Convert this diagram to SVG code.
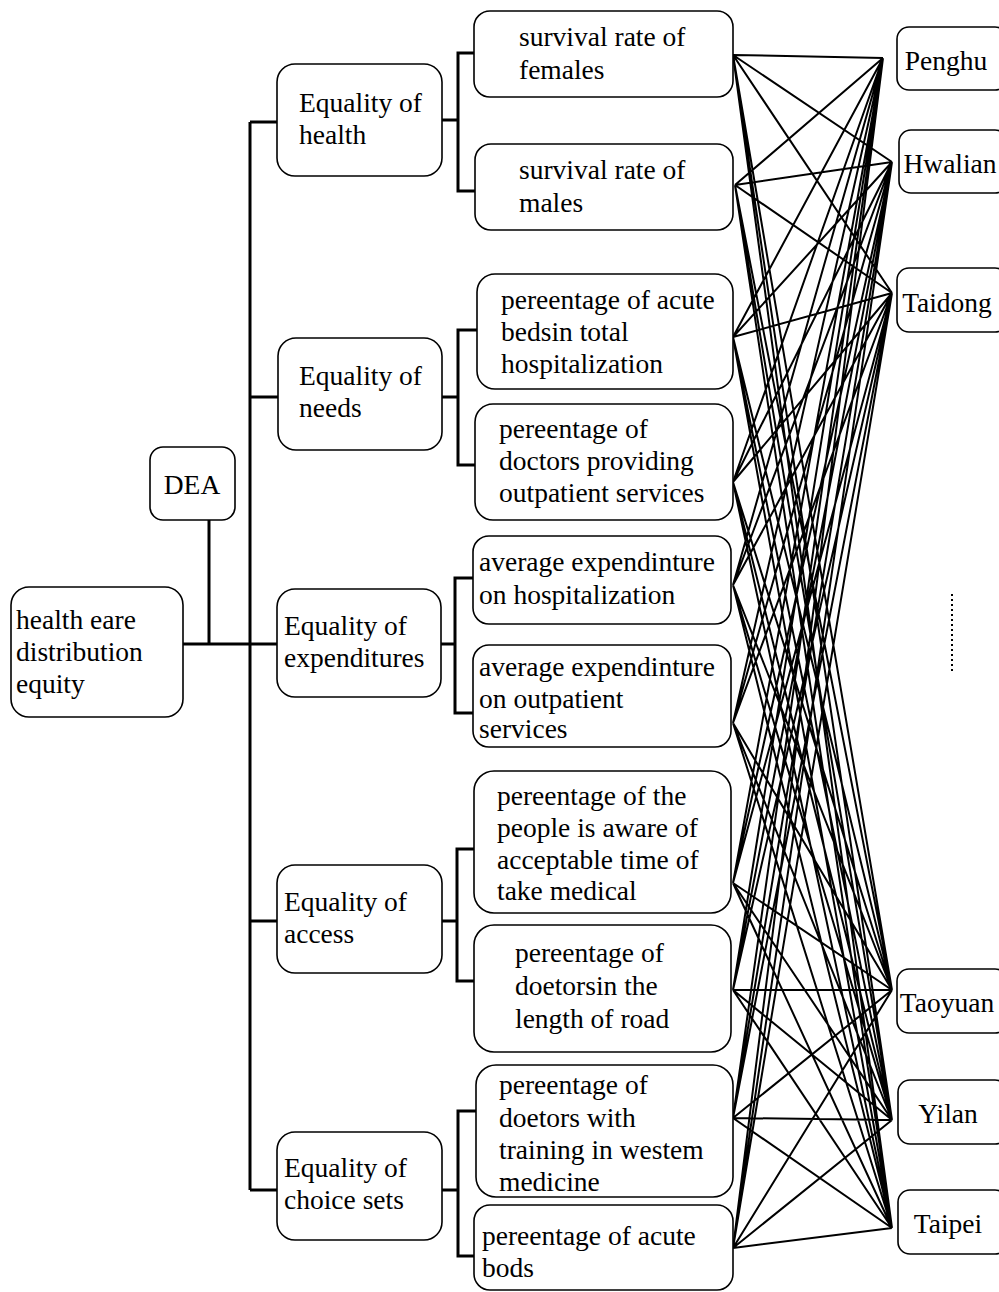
<svg xmlns="http://www.w3.org/2000/svg" width="999" height="1292" viewBox="0 0 999 1292">
<style>
.box{fill:#fff;stroke:#000;stroke-width:1.6}
.t{font-family:'Liberation Serif',serif;font-size:27.5px;fill:#000}
.tree{fill:none;stroke:#000;stroke-width:3}
.link{stroke:#000;stroke-width:2}
.c{text-anchor:middle}
</style>
<rect width="999" height="1292" fill="#fff"/>
<g id="tree-connectors" class="tree">
<path d="M183,644 H277"/>
<path d="M209,520 V644"/>
<path d="M250,122 V1190"/>
<path d="M250,122 H277 M250,397 H278 M250,921 H277 M250,1190 H277"/>
<path d="M442,120 H458 M475,53 H458 V191 H475"/>
<path d="M442,397 H458 M477,330 H458 V465 H475"/>
<path d="M441,644 H455 M473,578 H455 V713 H473"/>
<path d="M442,921 H457 M474,849 H457 V981 H474"/>
<path d="M442,1190 H458 M476,1111 H458 V1256 H474"/>
</g>
<g id="links" class="link">
<path d="M733,55 L883,58 M733,55 L892,162 M733,55 L892,293 M733,55 L892,990 M733,55 L892,1120 M733,55 L892,1228
M735,185 L883,58 M735,185 L892,162 M735,185 L892,293 M735,185 L892,990 M735,185 L892,1120 M735,185 L892,1228
M733,337 L883,58 M733,337 L892,162 M733,337 L892,293 M733,337 L892,990 M733,337 L892,1120 M733,337 L892,1228
M733,482 L883,58 M733,482 L892,162 M733,482 L892,293 M733,482 L892,990 M733,482 L892,1120 M733,482 L892,1228
M733,585 L883,58 M733,585 L892,162 M733,585 L892,293 M733,585 L892,990 M733,585 L892,1120 M733,585 L892,1228
M733,723 L883,58 M733,723 L892,162 M733,723 L892,293 M733,723 L892,990 M733,723 L892,1120 M733,723 L892,1228
M733,883 L883,58 M733,883 L892,162 M733,883 L892,293 M733,883 L892,990 M733,883 L892,1120 M733,883 L892,1228
M733,990 L883,58 M733,990 L892,162 M733,990 L892,293 M733,990 L892,990 M733,990 L892,1120 M733,990 L892,1228
M733,1118 L883,58 M733,1118 L892,162 M733,1118 L892,293 M733,1118 L892,990 M733,1118 L892,1120 M733,1118 L892,1228
M733,1248 L883,58 M733,1248 L892,162 M733,1248 L892,293 M733,1248 L892,990 M733,1248 L892,1120 M733,1248 L892,1228" fill="none"/>
</g>
<g id="root"><rect class="box" x="11" y="587" width="172" height="130" rx="18"/>
<text class="t" x="16" y="629">health eare</text><text class="t" x="16" y="661">distribution</text><text class="t" x="16" y="693">equity</text></g>
<g id="dea"><rect class="box" x="150" y="447" width="85" height="73" rx="13"/>
<text class="t c" x="192" y="494">DEA</text></g>
<g id="eq-health"><rect class="box" x="277" y="64" width="165" height="112" rx="18"/>
<text class="t" x="299" y="112">Equality of</text><text class="t" x="299" y="144">health</text></g>
<g id="eq-needs"><rect class="box" x="278" y="338" width="164" height="112" rx="18"/>
<text class="t" x="299" y="385">Equality of</text><text class="t" x="299" y="417">needs</text></g>
<g id="eq-exp"><rect class="box" x="277" y="589" width="164" height="108" rx="18"/>
<text class="t" x="284" y="635">Equality of</text><text class="t" x="284" y="667">expenditures</text></g>
<g id="eq-access"><rect class="box" x="277" y="865" width="165" height="108" rx="18"/>
<text class="t" x="284" y="911">Equality of</text><text class="t" x="284" y="943">access</text></g>
<g id="eq-choice"><rect class="box" x="277" y="1132" width="165" height="108" rx="18"/>
<text class="t" x="284" y="1177">Equality of</text><text class="t" x="284" y="1209">choice sets</text></g>
<g id="n-females"><rect class="box" x="474" y="11" width="259" height="86" rx="16"/>
<text class="t" x="519" y="46">survival rate of</text><text class="t" x="519" y="79">females</text></g>
<g id="n-males"><rect class="box" x="475" y="144" width="258" height="86" rx="16"/>
<text class="t" x="519" y="179">survival rate of</text><text class="t" x="519" y="212">males</text></g>
<g id="n-beds"><rect class="box" x="477" y="274" width="256" height="115" rx="18"/>
<text class="t" x="501" y="309">pereentage of acute</text><text class="t" x="501" y="341">bedsin total</text><text class="t" x="501" y="373">hospitalization</text></g>
<g id="n-doctors"><rect class="box" x="475" y="404" width="258" height="116" rx="18"/>
<text class="t" x="499" y="438">pereentage of</text><text class="t" x="499" y="470">doctors providing</text><text class="t" x="499" y="502">outpatient services</text></g>
<g id="n-avghosp"><rect class="box" x="473" y="536" width="258" height="88" rx="16"/>
<text class="t" x="479" y="571">average expendinture</text><text class="t" x="479" y="604">on hospitalization</text></g>
<g id="n-avgout"><rect class="box" x="473" y="645" width="258" height="102" rx="16"/>
<text class="t" x="479" y="676">average expendinture</text><text class="t" x="479" y="708">on outpatient</text><text class="t" x="479" y="738">services</text></g>
<g id="n-aware"><rect class="box" x="474" y="771" width="257" height="142" rx="20"/>
<text class="t" x="497" y="805">pereentage of the</text><text class="t" x="497" y="837">people is aware of</text><text class="t" x="497" y="869">acceptable time of</text><text class="t" x="497" y="900">take medical</text></g>
<g id="n-road"><rect class="box" x="474" y="925" width="257" height="127" rx="20"/>
<text class="t" x="515" y="962">pereentage of</text><text class="t" x="515" y="995">doetorsin the</text><text class="t" x="515" y="1028">length of road</text></g>
<g id="n-western"><rect class="box" x="476" y="1065" width="257" height="132" rx="20"/>
<text class="t" x="499" y="1094">pereentage of</text><text class="t" x="499" y="1127">doetors with</text><text class="t" x="499" y="1159">training in westem</text><text class="t" x="499" y="1191">medicine</text></g>
<g id="n-bods"><rect class="box" x="474" y="1205" width="259" height="85" rx="16"/>
<text class="t" x="482" y="1245">pereentage of acute</text><text class="t" x="482" y="1277">bods</text></g>
<g id="penghu"><rect class="box" x="897" y="27" width="110" height="63" rx="12"/>
<text class="t c" x="946" y="70">Penghu</text></g>
<g id="hwalian"><rect class="box" x="899" y="130" width="108" height="63" rx="12"/>
<text class="t c" x="950" y="173">Hwalian</text></g>
<g id="taidong"><rect class="box" x="897" y="268" width="110" height="64" rx="12"/>
<text class="t c" x="947" y="312">Taidong</text></g>
<g id="taoyuan"><rect class="box" x="897" y="969" width="110" height="64" rx="12"/>
<text class="t c" x="947" y="1012">Taoyuan</text></g>
<g id="yilan"><rect class="box" x="898" y="1080" width="109" height="64" rx="12"/>
<text class="t c" x="948" y="1123">Yilan</text></g>
<g id="taipei"><rect class="box" x="898" y="1190" width="109" height="64" rx="12"/>
<text class="t c" x="948" y="1233">Taipei</text></g>
<g id="ellipsis"><path d="M952,594 V674" stroke="#000" stroke-width="2" stroke-dasharray="2,3" fill="none"/></g>
</svg>
